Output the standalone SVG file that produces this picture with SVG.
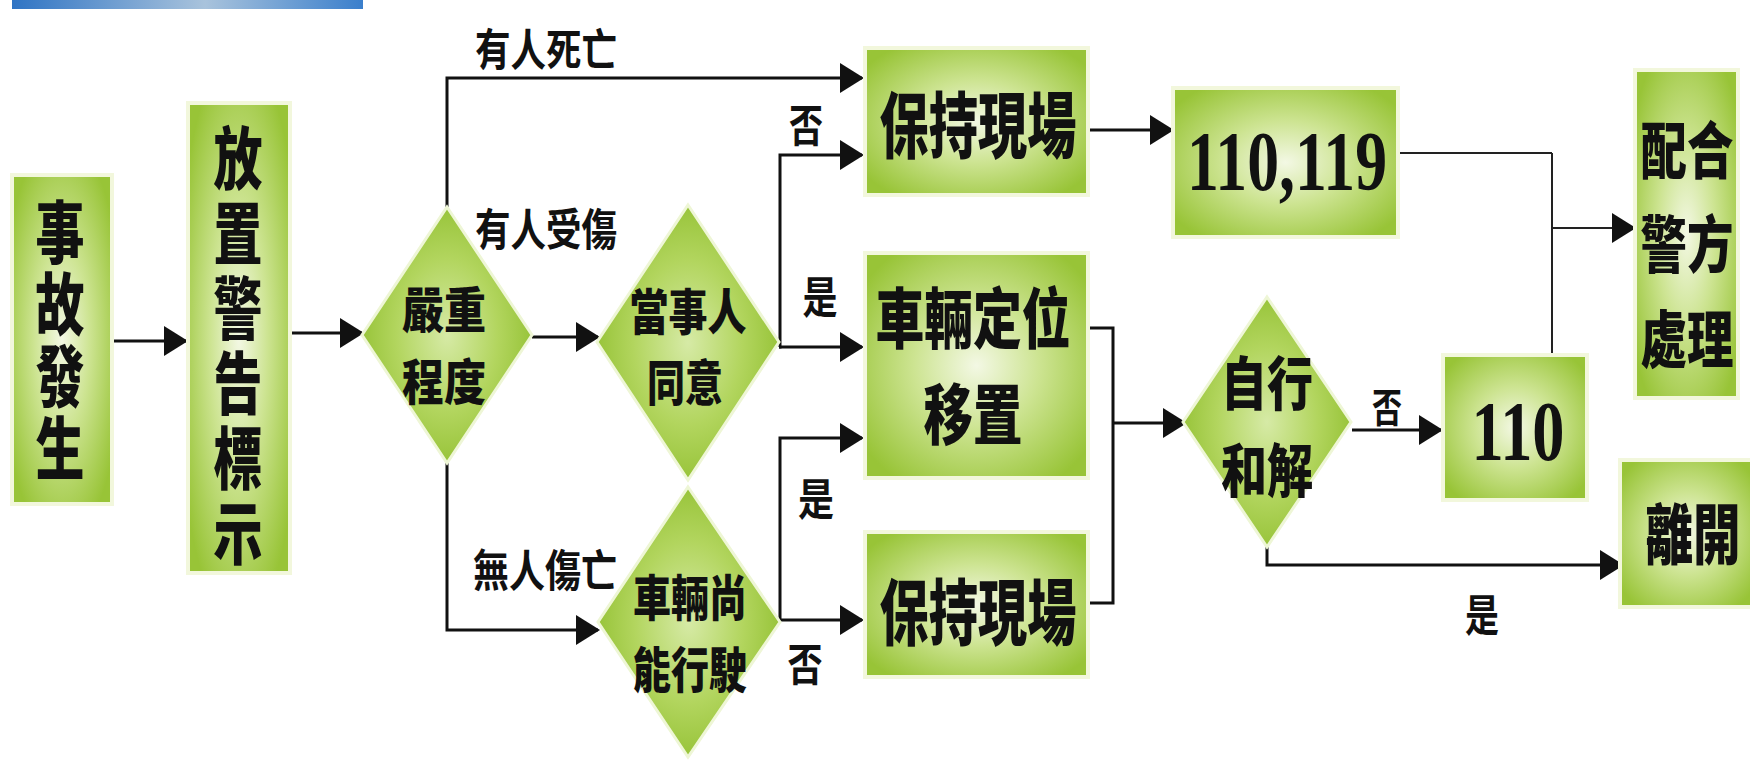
<svg xmlns="http://www.w3.org/2000/svg" width="1750" height="760" viewBox="0 0 1750 760">
<defs>
<radialGradient id="gbox" cx="0.5" cy="0.5" r="0.62">
<stop offset="0" stop-color="#f3f8e4"/>
<stop offset="0.45" stop-color="#cde492"/>
<stop offset="1" stop-color="#98c437"/>
</radialGradient>
<radialGradient id="gdia" cx="0.5" cy="0.5" r="0.5">
<stop offset="0" stop-color="#d6eaa6"/>
<stop offset="0.6" stop-color="#b2d55e"/>
<stop offset="1" stop-color="#98c43a"/>
</radialGradient>
<linearGradient id="gbar" x1="0" y1="0" x2="1" y2="0">
<stop offset="0" stop-color="#2f74c4"/>
<stop offset="0.55" stop-color="#a9c3dc"/>
<stop offset="1" stop-color="#3a7fcc"/>
</linearGradient>
<marker id="ah" markerUnits="userSpaceOnUse" markerWidth="24" markerHeight="32" viewBox="0 0 24 32" refX="22" refY="16" orient="auto">
<path d="M0,1 L24,16 L0,31 Z" fill="#111"/>
</marker>
<style>
.box{fill:url(#gbox);stroke:#f2f7dc;stroke-width:4}
.dia{fill:url(#gdia);stroke:#eef6d6;stroke-width:3}
.cjk{font-family:"Noto Sans CJK TC","Noto Sans CJK SC",sans-serif;font-weight:900;fill:#111;text-anchor:middle;dominant-baseline:central}
.vt{writing-mode:vertical-rl}
.num{font-family:"Liberation Serif",serif;font-weight:bold;fill:#111;text-anchor:middle}
.lbl{font-family:"Noto Sans CJK TC","Noto Sans CJK SC",sans-serif;font-weight:700;fill:#111;text-anchor:middle;dominant-baseline:central}
.ln{fill:none;stroke:#111;stroke-width:3}
.lt{fill:none;stroke:#222;stroke-width:2}
</style>
</defs>
<rect width="1750" height="760" fill="#ffffff"/>
<rect x="12" y="0" width="351" height="9" fill="url(#gbar)"/>

<g id="connectors">
<path class="ln" d="M112,341 H186" marker-end="url(#ah)"/>
<path class="ln" d="M290,333 H362" marker-end="url(#ah)"/>
<path class="ln" d="M447,207 V78 H862" marker-end="url(#ah)"/>
<path class="ln" d="M532,337 H598" marker-end="url(#ah)"/>
<path class="ln" d="M447,463 V630 H598" marker-end="url(#ah)"/>
<path class="ln" d="M779,347 H780 V155 H862" marker-end="url(#ah)"/>
<path class="ln" d="M779,347 H862" marker-end="url(#ah)"/>
<path class="ln" d="M780,620 V438 H862" marker-end="url(#ah)"/>
<path class="ln" d="M780,620 H862" marker-end="url(#ah)"/>
<path class="ln" d="M1090,130 H1172" marker-end="url(#ah)"/>
<path class="ln" d="M1090,328 H1113 V603 H1090"/>
<path class="ln" d="M1113,423 H1185" marker-end="url(#ah)"/>
<path class="ln" d="M1352,430 H1441" marker-end="url(#ah)"/>
<path class="ln" d="M1267,547 V565 H1622" marker-end="url(#ah)"/>
<path class="lt" d="M1398,153 H1552 M1552,355 V153"/>
<path class="lt" d="M1552,228 H1634" marker-end="url(#ah)"/>
<text class="lbl" x="546" y="47" font-size="44" textLength="142" lengthAdjust="spacingAndGlyphs">有人死亡</text>
<text class="lbl" x="546" y="227" font-size="44" textLength="142" lengthAdjust="spacingAndGlyphs">有人受傷</text>
<text class="lbl" x="545" y="568" font-size="44" textLength="144" lengthAdjust="spacingAndGlyphs">無人傷亡</text>
<text class="lbl" x="806" y="123" font-size="44" textLength="34" lengthAdjust="spacingAndGlyphs">否</text>
<text class="lbl" x="820" y="295" font-size="44" textLength="35" lengthAdjust="spacingAndGlyphs">是</text>
<text class="lbl" x="816" y="497" font-size="44" textLength="36" lengthAdjust="spacingAndGlyphs">是</text>
<text class="lbl" x="805" y="662" font-size="44" textLength="35" lengthAdjust="spacingAndGlyphs">否</text>
<text class="lbl" x="1387" y="405" font-size="40" textLength="30" lengthAdjust="spacingAndGlyphs">否</text>
<text class="lbl" x="1482" y="613" font-size="44" textLength="34" lengthAdjust="spacingAndGlyphs">是</text>
</g>

<g id="n-shigu">
<rect class="box" x="12" y="175" width="100" height="329"/>
<g transform="translate(60,0) scale(0.72,1)">
<text class="cjk vt" x="0" y="342" font-size="68" letter-spacing="4">事故發生</text>
</g>
</g>

<g id="n-fangzhi">
<rect class="box" x="188" y="103" width="102" height="470"/>
<g transform="translate(238,0) scale(0.72,1)">
<text class="cjk vt" x="0" y="349" font-size="68" letter-spacing="7">放置警告標示</text>
</g>
</g>

<g id="n-yanzhong">
<polygon class="dia" points="447,207 532,335 447,463 362,335"/>
<text class="cjk" x="444" y="306" font-size="49" textLength="84" lengthAdjust="spacingAndGlyphs">嚴重</text>
<text class="cjk" x="444" y="378" font-size="49" textLength="84" lengthAdjust="spacingAndGlyphs">程度</text>
</g>

<g id="n-dangshiren">
<polygon class="dia" points="688,205 779,342 688,480 597,342"/>
<text class="cjk" x="688" y="308" font-size="49" textLength="117" lengthAdjust="spacingAndGlyphs">當事人</text>
<text class="cjk" x="685" y="379" font-size="49" textLength="76" lengthAdjust="spacingAndGlyphs">同意</text>
</g>

<g id="n-cheliang">
<polygon class="dia" points="688,487 780,622 688,757 598,622"/>
<text class="cjk" x="690" y="594" font-size="49" textLength="114" lengthAdjust="spacingAndGlyphs">車輛尚</text>
<text class="cjk" x="690" y="666" font-size="49" textLength="114" lengthAdjust="spacingAndGlyphs">能行駛</text>
</g>

<g id="n-baochi1">
<rect class="box" x="865" y="48" width="223" height="147"/>
<text class="cjk" x="978" y="120" font-size="72" textLength="197" lengthAdjust="spacingAndGlyphs">保持現場</text>
</g>

<g id="n-dingwei">
<rect class="box" x="865" y="253" width="223" height="225"/>
<text class="cjk" x="973" y="314" font-size="66" textLength="195" lengthAdjust="spacingAndGlyphs">車輛定位</text>
<text class="cjk" x="973" y="410" font-size="66" textLength="99" lengthAdjust="spacingAndGlyphs">移置</text>
</g>

<g id="n-baochi2">
<rect class="box" x="865" y="532" width="223" height="145"/>
<text class="cjk" x="978" y="607" font-size="72" textLength="197" lengthAdjust="spacingAndGlyphs">保持現場</text>
</g>

<g id="n-110119">
<rect class="box" x="1173" y="88" width="225" height="149"/>
<text class="num" x="1287" y="190" font-size="84" textLength="200" lengthAdjust="spacingAndGlyphs">110,119</text>
</g>

<g id="n-hejie">
<polygon class="dia" points="1267,297 1351,422 1267,547 1183,422"/>
<text class="cjk" x="1267" y="380" font-size="58" textLength="92" lengthAdjust="spacingAndGlyphs">自行</text>
<text class="cjk" x="1267" y="467" font-size="58" textLength="92" lengthAdjust="spacingAndGlyphs">和解</text>
</g>

<g id="n-110">
<rect class="box" x="1443" y="355" width="144" height="145"/>
<text class="num" x="1518" y="460" font-size="84" textLength="93" lengthAdjust="spacingAndGlyphs">110</text>
</g>

<g id="n-peihe">
<rect class="box" x="1635" y="70" width="103" height="328"/>
<g transform="translate(1687,0) scale(0.75,1)">
<text class="cjk" x="0" y="147" font-size="62">配合</text>
<text class="cjk" x="0" y="241" font-size="62">警方</text>
<text class="cjk" x="0" y="336" font-size="62">處理</text>
</g>
</g>

<g id="n-likai">
<rect class="box" x="1620" y="460" width="135" height="147"/>
<g transform="translate(1693,0) scale(0.72,1)">
<text class="cjk" x="0" y="530" font-size="66">離開</text>
</g>
</g>
</svg>
